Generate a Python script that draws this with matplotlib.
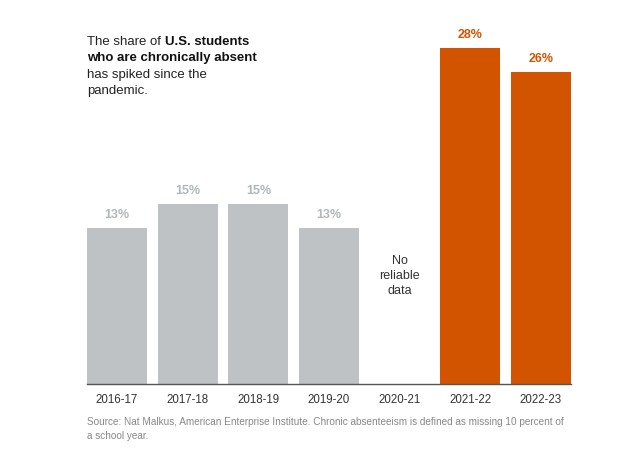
import matplotlib
matplotlib.use("Agg")
import matplotlib.pyplot as plt

years = ["2016-17", "2017-18", "2018-19", "2019-20", "2020-21", "2021-22", "2022-23"]
values = [13, 15, 15, 13, None, 28, 26]
labels = ["13%", "15%", "15%", "13%", "", "28%", "26%"]
post_pandemic = [False, False, False, False, False, True, True]

grey = "#bec2c4"
grey_txt = "#b3b7b9"
orange = "#d35400"

plt.rcParams["font.family"] = ["Liberation Sans", "DejaVu Sans"]

fig = plt.figure(figsize=(6.24, 4.66), dpi=100)
ax = fig.add_axes([87 / 624, 82 / 466, 484 / 624, 360 / 466])

for i, (v, lab, post) in enumerate(zip(values, labels, post_pandemic)):
    if v is None:
        ax.text(i, 9.0, "No\nreliable\ndata", ha="center", va="center",
                fontsize=9, color="#333333", linespacing=1.3)
        continue
    c = orange if post else grey
    tc = orange if post else grey_txt
    ax.bar(i, v, width=0.85, color=c)
    ax.annotate(lab, (i, v), xytext=(0, 5), textcoords="offset points",
                ha="center", va="bottom", fontsize=9, fontweight="bold", color=tc)

ax.set_xlim(-0.425, 6.425)
ax.set_ylim(0, 30)
ax.set_xticks(range(len(years)))
ax.set_xticklabels(years, fontsize=8.3, color="#333333")
ax.tick_params(axis="x", length=0, pad=7)
ax.set_yticks([])
for s in ["top", "right", "left"]:
    ax.spines[s].set_visible(False)
ax.spines["bottom"].set_color("#555555")
ax.spines["bottom"].set_linewidth(1.0)

# headline with mixed weights
fs = 9.5
t1 = fig.text(87 / 624, 1 - 45 / 466, "The share of ", fontsize=fs, color="#222222",
              va="baseline")
fig.canvas.draw()
ax.annotate("U.S. students", xy=(1, 0), xycoords=t1, va="bottom", ha="left",
            fontsize=fs, fontweight="bold", color="#111111")
fig.text(87 / 624, 1 - 61.5 / 466, "who are chronically absent", fontsize=fs,
         fontweight="bold", color="#111111", va="baseline")
fig.text(87 / 624, 1 - 78 / 466, "has spiked since the", fontsize=fs,
         color="#222222", va="baseline")
fig.text(87 / 624, 1 - 94.5 / 466, "pandemic.", fontsize=fs,
         color="#222222", va="baseline")

fig.text(87 / 624, 1 - 425 / 466,
         "Source: Nat Malkus, American Enterprise Institute. Chronic absenteeism is defined as missing 10 percent of",
         fontsize=7.2, color="#888888", va="baseline")
fig.text(87 / 624, 1 - 439 / 466, "a school year.",
         fontsize=7.2, color="#888888", va="baseline")

fig.savefig("out.png", dpi=100)
